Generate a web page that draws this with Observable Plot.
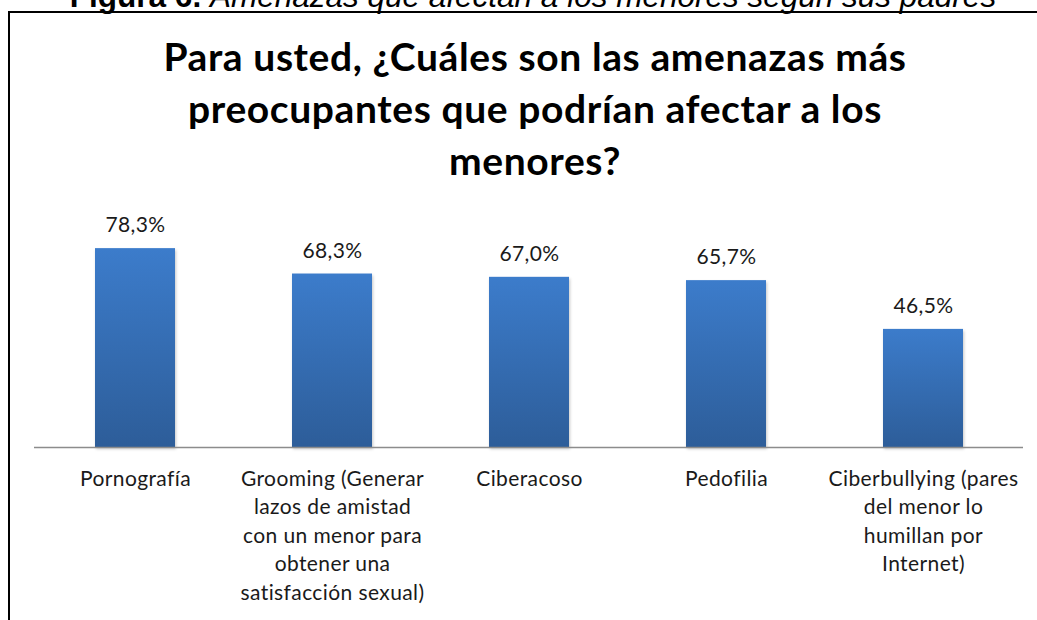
<!DOCTYPE html>
<html>
<head>
<meta charset="utf-8">
<script src="https://cdn.jsdelivr.net/npm/d3@7"></script>
<script src="https://cdn.jsdelivr.net/npm/@observablehq/plot@0.6"></script>
<style>
  html, body { margin: 0; padding: 0; background: #fff; }
  body { width: 1037px; height: 620px; overflow: hidden; position: relative; }
  #caption { position: absolute; left: 0; width: 1066px; top: -19px; text-align: center;
    font-family: "Liberation Sans", Arial, sans-serif; font-size: 31.5px; line-height: 31px; color: #000; white-space: nowrap; }
  #caption b { font-weight: bold; }
  #caption i { font-style: italic; }
  #frame { position: absolute; left: 8px; top: 11px; width: 1200px; height: 800px;
    border-left: 2px solid #000; border-top: 2px solid #000; }
  #title { position: absolute; left: 0; width: 1070px; top: 30px; text-align: center;
    font-family: Lato, sans-serif; font-weight: bold; font-size: 39px; letter-spacing: 0.6px; line-height: 52px; color: #000; }
  #chart { position: absolute; left: 0; top: 180px; }
  #chart text { letter-spacing: 0.4px; }
</style>
</head>
<body>
<div id="caption"><b>Figura 6.</b> <i>Amenazas que afectan a los menores según sus padres</i></div>
<div id="frame"></div>
<div id="title"></div>
<div id="chart"></div>
<script>
const titleLines = ["Para usted, ¿Cuáles son las amenazas más", "preocupantes que podrían afectar a los", "menores?"];
const categories = ["Pornografía", "Grooming", "Ciberacoso", "Pedofilia", "Ciberbullying"];
const tickLabels = [
  "Pornografía",
  "Grooming (Generar\nlazos de amistad\ncon un menor para\nobtener una\nsatisfacción sexual)",
  "Ciberacoso",
  "Pedofilia",
  "Ciberbullying (pares\ndel menor lo\nhumillan por\nInternet)"
];
const values = [78.3, 68.3, 67.0, 65.7, 46.5];
const valueLabels = ["78,3%", "68,3%", "67,0%", "65,7%", "46,5%"];

document.getElementById("title").innerHTML = titleLines.join("<br>");

const data = categories.map((c, i) => ({cat: c, value: values[i], label: valueLabels[i], tick: tickLabels[i]}));

const chart = Plot.plot({
  width: 1037,
  height: 440,
  marginLeft: 34,
  marginRight: 14,
  marginTop: 13,
  marginBottom: 173,
  style: {fontFamily: "Lato, sans-serif", fontSize: "21px", color: "#1a1a1a", background: "transparent", overflow: "visible"},
  x: {domain: categories, paddingInner: 0.596, paddingOuter: 0.298, axis: null},
  y: {domain: [0, 100], axis: null},
  marks: [
    Plot.barY(data, {x: "cat", y: "value", fill: "url(#barGrad)"}),
    Plot.ruleY([0], {stroke: "#8c8c8c", strokeWidth: 1.5}),
    Plot.text(data, {x: "cat", y: "value", text: "label", dy: -23, fill: "#1a1a1a", fontSize: 21}),
    Plot.text(data, {x: "cat", text: "tick", frameAnchor: "bottom", lineAnchor: "top", dy: 18, lineHeight: 1.36, fill: "#1a1a1a", fontSize: 21})
  ]
});

d3.select(chart).insert("defs", ":first-child").html(
  '<linearGradient id="barGrad" x1="0" y1="0" x2="0" y2="1">' +
  '<stop offset="0" stop-color="#3C7CCB"/><stop offset="1" stop-color="#2D5D99"/></linearGradient>'
);
d3.select(chart).selectAll("g[aria-label=bar] rect").style("filter", "drop-shadow(1px 2px 1.5px rgba(0,0,0,0.22))");

document.getElementById("chart").appendChild(chart);
</script>
</body>
</html>
